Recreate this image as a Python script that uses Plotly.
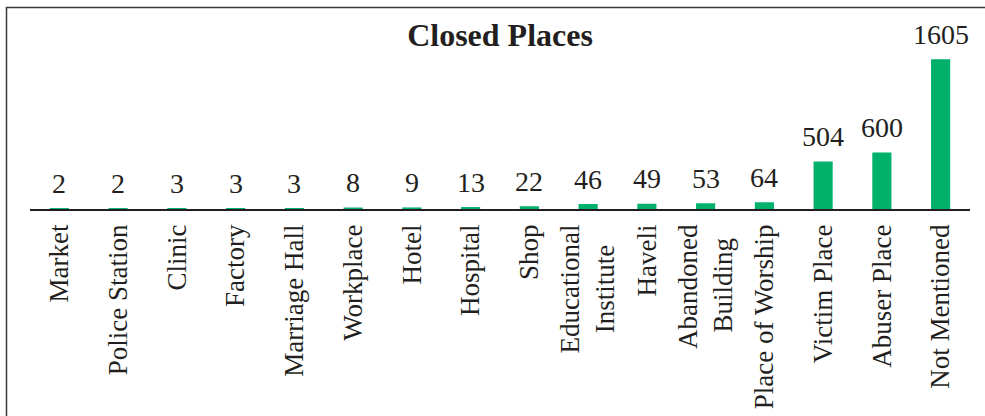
import plotly.graph_objects as go

categories = ["Market", "Police Station", "Clinic", "Factory", "Marriage Hall",
              "Workplace", "Hotel", "Hospital", "Shop", "Educational<br>Institute\u00a0\u00a0\u00a0",
              "Haveli", "Abandoned<br>Building\u00a0\u00a0", "Place of Worship", "Victim Place",
              "Abuser Place", "Not Mentioned"]
values = [2, 2, 3, 3, 3, 8, 9, 13, 22, 46, 49, 53, 64, 504, 600, 1605]
title_text = "Closed Places"

FONT = "Liberation Serif, Times New Roman, serif"
INK = "#231f20"
GREEN = "#00b16b"

xs = list(range(len(categories)))

fig = go.Figure(go.Bar(
    x=xs, y=values,
    width=0.30,
    marker=dict(color=GREEN, line=dict(color=GREEN, width=1.5)),
    cliponaxis=False,
))

for x, v in zip(xs, values):
    fig.add_annotation(x=x, y=v, text=str(v), showarrow=False,
                       xanchor="center", yanchor="bottom", yshift=8,
                       font=dict(family=FONT, size=28, color=INK))

fig.update_layout(
    width=985, height=416,
    margin=dict(l=30, r=15, t=40, b=207, autoexpand=False),
    paper_bgcolor="white", plot_bgcolor="white",
    showlegend=False,
    title=dict(text="<b>" + title_text + "</b>", x=0.5, xref="paper", xanchor="center",
               y=1 - 35 / 416, yanchor="middle",
               font=dict(family=FONT, size=32, color=INK)),
    font=dict(family=FONT, color=INK),
    shapes=[dict(type="rect", xref="paper", yref="paper",
                 x0=(6.5 - 30) / 940, x1=1.2,
                 y0=-3, y1=(209 - 7.5) / 169,
                 line=dict(color="#3a3a3a", width=1.5), fillcolor="rgba(0,0,0,0)",
                 layer="below")],
)
fig.update_xaxes(
    tickmode="array", tickvals=xs, ticktext=categories,
    range=[-0.5, len(categories) - 0.5], automargin=False,
    tickangle=-90, tickfont=dict(family=FONT, size=27, color=INK),
    showline=True, linecolor=INK, linewidth=1.5, ticks="", ticklen=0,
    showgrid=False, zeroline=False, ticklabelstandoff=3,
)
fig.update_yaxes(range=[0, 1820], visible=False, showgrid=False, zeroline=False,
                 automargin=False)

fig.write_html("out.html", config={"displayModeBar": False},
               post_script="document.body.style.margin='0';document.body.style.overflow='hidden';")
